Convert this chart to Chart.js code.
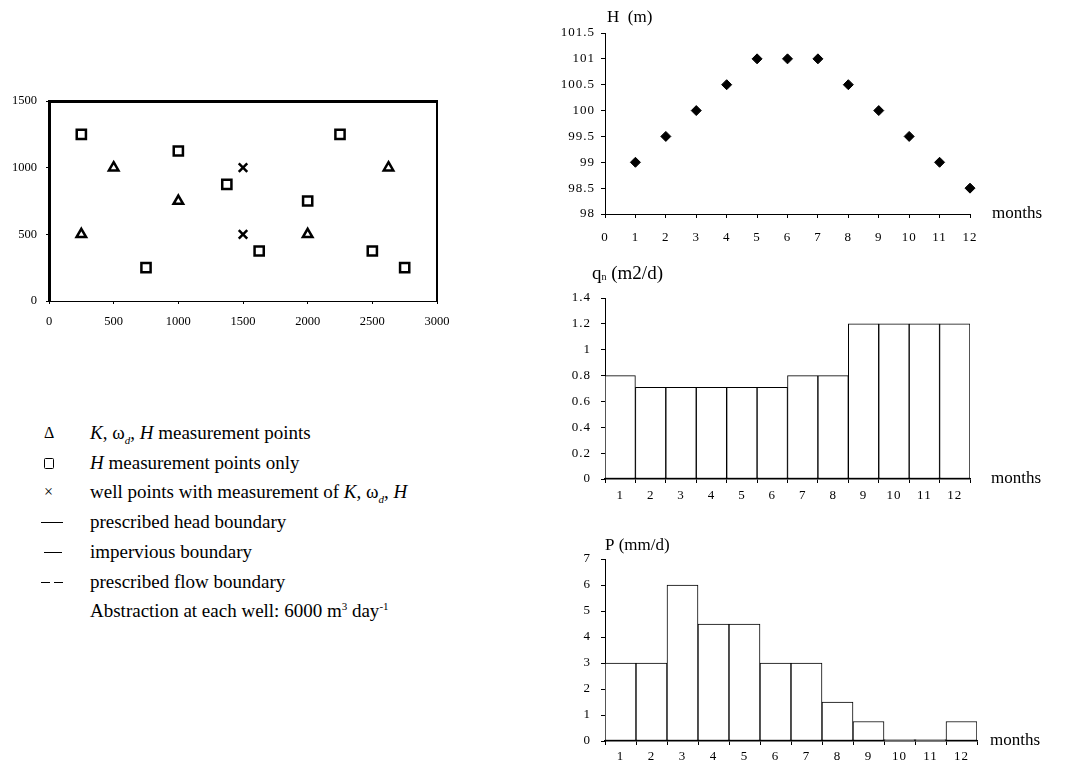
<!DOCTYPE html>
<html>
<head>
<meta charset="utf-8">
<script src="https://cdn.jsdelivr.net/npm/chart.js@4.4.1/dist/chart.umd.min.js"></script>
<style>
  body { margin: 0; background: #fff; }
  #page { position: relative; width: 1069px; height: 770px; overflow: hidden; background: #fff;
          font-family: "Liberation Serif", "Times New Roman", serif; color: #000; }
  canvas { position: absolute; }
  .row { position: absolute; left: 90px; height: 20px; line-height: 20px; font-size: 19px; white-space: nowrap; }
  .row sub, .row sup { font-size: 11px; line-height: 0; }
  .sym { position: absolute; }
  .ln { position: absolute; height: 0; border-top: 1.5px solid #000; }
</style>
</head>
<body>
<div id="page">
  <canvas id="mapChart" width="480" height="250" style="left:0;top:80px"></canvas>
  <canvas id="headChart" width="529" height="250" style="left:540px;top:0"></canvas>
  <canvas id="qnChart" width="529" height="250" style="left:540px;top:260px"></canvas>
  <canvas id="rainChart" width="529" height="260" style="left:540px;top:510px"></canvas>

  <!-- legend for the map -->
  <div class="sym" style="left:44px;top:423px;font-size:16px;line-height:20px">&Delta;</div>
  <div class="row" style="top:423px"><i>K</i>, &omega;<sub><i>d</i></sub>, <i>H</i> measurement points</div>

  <div class="sym" style="left:44px;top:458px;width:8px;height:9px;border:1.5px solid #000;border-radius:1.5px"></div>
  <div class="row" style="top:453px"><i>H</i> measurement points only</div>

  <div class="sym" style="left:44px;top:482px;font-size:16px;line-height:20px">&times;</div>
  <div class="row" style="top:482px">well points with measurement of <i>K</i>, &omega;<sub><i>d</i></sub>, <i>H</i></div>

  <div class="ln" style="left:41px;top:522px;width:22px"></div>
  <div class="row" style="top:512px">prescribed head boundary</div>

  <div class="ln" style="left:44px;top:552px;width:18px"></div>
  <div class="row" style="top:542px">impervious boundary</div>

  <div class="ln" style="left:41px;top:582px;width:9px"></div>
  <div class="ln" style="left:54px;top:582px;width:9px"></div>
  <div class="row" style="top:572px">prescribed flow boundary</div>

  <div class="row" style="top:601px">Abstraction at each well: 6000 m<sup>3</sup> day<sup>-1</sup></div>
</div>

<script>
// map of measurement points (x, y in m)
const triangleX = [250, 500, 1000, 2000, 2625];
const triangleY = [500, 1000, 750, 500, 1000];
const squareX = [250, 750, 1000, 1375, 1625, 2000, 2250, 2500, 2750];
const squareY = [1250, 250, 1125, 875, 375, 750, 1250, 375, 250];
const wellX = [1500, 1500];
const wellY = [1000, 500];

// monthly series
const months = [1, 2, 3, 4, 5, 6, 7, 8, 9, 10, 11, 12];
const monthLabels = ['1', '2', '3', '4', '5', '6', '7', '8', '9', '10', '11', '12'];
const headValues = [99, 99.5, 100, 100.5, 101, 101, 101, 100.5, 100, 99.5, 99, 98.5];
const qnValues = [0.8, 0.71, 0.71, 0.71, 0.71, 0.71, 0.8, 0.8, 1.2, 1.2, 1.2, 1.2];
const rainValues = [3, 3, 6, 4.5, 4.5, 3, 3, 1.5, 0.75, 0.05, 0.05, 0.75];

const serif = '"Liberation Serif", "Times New Roman", serif';
const plainNum = v => String(Math.round(v * 100) / 100);

// axis titles and "months" labels, placed relative to each chart area
const extras = {
  headChart: { title: [{ t: 'H  (m)' }], size: 17, dx: 2, dy: -15, xLabel: 'months', xdx: 22 },
  qnChart: { title: [{ t: 'q' }, { t: 'n', sub: true }, { t: ' (m2/d)' }], size: 19, dx: -13, dy: -24, xLabel: 'months', xdx: 21 },
  rainChart: { title: [{ t: 'P (mm/d)' }], size: 17, dx: 0, dy: -13, xLabel: 'months', xdx: 13 }
};

const axisText = {
  id: 'axisText',
  beforeDraw(chart) {
    if (extras[chart.canvas.id]) chart.ctx.letterSpacing = '1px';
  },
  afterDraw(chart) {
    const ex = extras[chart.canvas.id];
    if (!ex) return;
    const { ctx, chartArea } = chart;
    ctx.save();
    ctx.letterSpacing = '0px';
    ctx.fillStyle = '#000';
    ctx.textBaseline = 'middle';
    let x = chartArea.left + ex.dx;
    const y = chartArea.top + ex.dy;
    ex.title.forEach(part => {
      ctx.font = (part.sub ? '10px ' : ex.size + 'px ') + serif;
      ctx.fillText(part.t, x, y + (part.sub ? 3 : 0));
      x += ctx.measureText(part.t).width;
    });
    ctx.font = '17px ' + serif;
    ctx.fillText(ex.xLabel, chartArea.right + ex.xdx, chartArea.bottom);
    ctx.restore();
    ctx.letterSpacing = '0px';
  }
};
Chart.register(axisText);

function axis(opts) {
  return Object.assign({
    ticks: { color: '#000', font: { family: serif, size: 13 }, padding: 6 },
    grid: { display: true, drawOnChartArea: false, tickLength: 4, color: '#000' },
    border: { color: '#000', width: 1 }
  }, opts);
}

const common = {
  responsive: false,
  animation: false,
  events: [],
  plugins: { legend: { display: false }, tooltip: { enabled: false } }
};

// measurement layout
new Chart(document.getElementById('mapChart'), {
  type: 'scatter',
  data: {
    datasets: [
      {
        data: triangleX.map((x, i) => ({ x, y: triangleY[i] })),
        pointStyle: 'triangle', pointRadius: 5.5, borderWidth: 2.5,
        borderColor: '#000', backgroundColor: '#fff'
      },
      {
        data: squareX.map((x, i) => ({ x, y: squareY[i] })),
        pointStyle: 'rect', pointRadius: 6.5, borderWidth: 2.5,
        borderColor: '#000', backgroundColor: '#fff'
      },
      {
        data: wellX.map((x, i) => ({ x, y: wellY[i] })),
        pointStyle: 'crossRot', pointRadius: 6, borderWidth: 2.5,
        borderColor: '#000'
      }
    ]
  },
  options: Object.assign({}, common, {
    layout: { padding: 0 },
    scales: {
      x: axis({
        type: 'linear', position: 'bottom', min: 0, max: 3000,
        ticks: { stepSize: 500, callback: plainNum, color: '#000', font: { family: serif, size: 12.5 }, padding: 10 },
        grid: { display: true, drawOnChartArea: false, tickLength: 3, color: '#000' },
        afterFit: s => { s.height = 29; }
      }),
      y: axis({
        type: 'linear', position: 'left', min: 0, max: 1500,
        ticks: { stepSize: 500, callback: plainNum, color: '#000', font: { family: serif, size: 12.5 }, padding: 9 },
        grid: { display: true, drawOnChartArea: false, tickLength: 3, color: '#000' },
        border: { color: '#000', width: 3 },
        afterFit: s => { s.width = 49; }
      }),
      xTop: {
        type: 'linear', position: 'top', min: 0, max: 3000,
        ticks: { display: false }, grid: { display: false },
        border: { color: '#000', width: 3 },
        afterFit: s => { s.height = 21; }
      },
      yRight: {
        type: 'linear', position: 'right', min: 0, max: 1500,
        ticks: { display: false }, grid: { display: false },
        border: { color: '#000', width: 2, dash: [8, 4] },
        afterFit: s => { s.width = 43; }
      }
    }
  })
});

// head H (m)
new Chart(document.getElementById('headChart'), {
  type: 'scatter',
  data: {
    datasets: [{
      data: months.map((m, i) => ({ x: m, y: headValues[i] })),
      pointStyle: 'rectRot', pointRadius: 5, borderWidth: 1,
      borderColor: '#000', backgroundColor: '#000', clip: false
    }]
  },
  options: Object.assign({}, common, {
    layout: { padding: { top: 33, right: 99 } },
    scales: {
      x: axis({
        type: 'linear', min: 0, max: 12,
        ticks: { stepSize: 1, color: '#000', font: { family: serif, size: 13 }, padding: 12 },
        afterFit: s => { s.height = 36; }
      }),
      y: axis({
        type: 'linear', min: 98, max: 101.5,
        ticks: { stepSize: 0.5, callback: plainNum, color: '#000', font: { family: serif, size: 13 }, padding: 6 },
        afterFit: s => { s.width = 65; }
      })
    }
  })
});

function barChart(id, values, yMax, yStep, top, bottom, right, labelPad) {
  return new Chart(document.getElementById(id), {
    type: 'bar',
    data: {
      labels: monthLabels,
      datasets: [{
        data: values,
        backgroundColor: '#fff', borderColor: '#000', borderWidth: 1,
        borderSkipped: false, categoryPercentage: 1, barPercentage: 1
      }]
    },
    options: Object.assign({}, common, {
      layout: { padding: { top, right } },
      scales: {
        x: axis({
          ticks: { color: '#000', font: { family: serif, size: 13 }, padding: labelPad },
          grid: { display: true, drawOnChartArea: false, tickLength: 4, color: '#000', offset: true },
          border: { color: '#000', width: 1.5 },
          afterFit: s => { s.height = bottom; }
        }),
        y: axis({
          min: 0, max: yMax,
          ticks: { stepSize: yStep, callback: plainNum, color: '#000', font: { family: serif, size: 13 }, padding: 10 },
          afterFit: s => { s.width = 65; }
        })
      }
    })
  });
}

barChart('qnChart', qnValues, 1.4, 0.2, 38, 31, 99, 5);
barChart('rainChart', rainValues, 7, 1, 49, 29, 92, 4);
</script>
</body>
</html>
